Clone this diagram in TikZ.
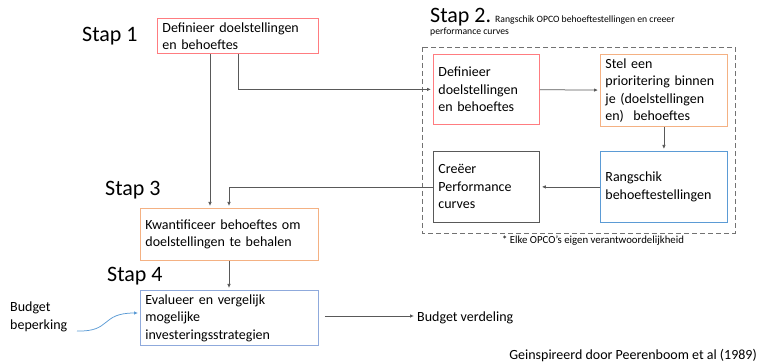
\documentclass[tikz,border=0pt]{standalone}
\usepackage{fontspec}
\setmainfont{Carlito}
\usetikzlibrary{arrows.meta, positioning}
\definecolor{boxred}{HTML}{FF7C80}
\definecolor{boxorange}{HTML}{F4B183}
\definecolor{boxblue}{HTML}{5B9BD5}
\definecolor{boxlblue}{HTML}{8FAADC}
\definecolor{boxgray}{HTML}{595959}
\definecolor{linegray}{HTML}{595959}
\tikzset{
    box/.style={draw, line width=0.8pt, inner xsep=5pt, inner ysep=4pt, anchor=north west, align=left,
        font=\fontsize{14}{17.5}\selectfont},
    staplabel/.style={anchor=base west, inner sep=0pt, font=\fontsize{22}{26}\selectfont},
    smalltext/.style={anchor=base west, inner sep=0pt, font=\fontsize{9.7}{12}\selectfont},
    plain/.style={inner sep=0pt, align=left, font=\fontsize{14}{18}\selectfont},
    flow/.style={draw=linegray, line width=0.75pt, -{Latex[length=4pt,width=3.5pt]}, shorten >=2pt}
}
\begin{document}
\begin{tikzpicture}[x=1pt, y=-1pt]
    \useasboundingbox (0,0) rectangle (768,363);
    % stap 2 kader
    \draw[linegray!85, line width=0.8pt, dash pattern=on 5pt off 3pt] (422,47) rectangle (735,233);
    % stappen
    \node[staplabel] (t1) at (82,42) {Stap 1};
    \node[staplabel] (t2) at (430,23) {Stap 2.};
    \node[smalltext] (t2a) at (495,23) {Rangschik OPCO behoeftestellingen en creeer};
    \node[smalltext] (t2b) at (430,35) {performance curves};
    \node[staplabel] (t3) at (105,196) {Stap 3};
    \node[staplabel] (t4) at (107,281) {Stap 4};
    % blokken
    \node[box, draw=boxred, text width=151pt, minimum height=34pt] (s1) at (157,18)
        {Definieer doelstellingen\\en behoeftes};
    \node[box, draw=boxred, text width=96pt, minimum height=70pt] (s2a) at (433,54)
        {Definieer\\doelstellingen\\en behoeftes};
    \node[box, draw=boxorange, text width=117pt, minimum height=70pt] (s2b) at (600,54)
        {Stel een\\prioritering binnen\\je (doelstellingen\\en)\ \ behoeftes};
    \node[box, draw=boxblue, text width=117pt, minimum height=71pt] (s2c) at (600,151)
        {Rangschik\\behoeftestellingen};
    \node[box, draw=boxgray, text width=96pt, minimum height=71pt] (s2d) at (433,151)
        {Creëer\\Performance\\curves};
    \node[box, draw=boxorange, text width=168pt, minimum height=52pt] (s3) at (140,208)
        {Kwantificeer behoeftes om\\doelstellingen te behalen};
    \node[box, draw=boxlblue, text width=168pt, minimum height=52pt] (s4) at (140,290)
        {Evalueer en vergelijk\\mogelijke\\investeringsstrategien};
    \node[plain, anchor=north west] (bb) at (10,302) {Budget\\beperking};
    \node[plain, anchor=base west] (bv) at (417,321) {Budget verdeling};
    \node[smalltext, anchor=base, font=\fontsize{10.8}{13}\selectfont] (note) at (593,244)
        {* Elke OPCO’s eigen verantwoordelijkheid};
    \node[plain, anchor=base east] (ref) at (757,359) {Geinspireerd door Peerenboom et al (1989)};
    % verbindingen
    \coordinate (c1) at (210,0);
    \coordinate (c2) at (238,0);
    \coordinate (c3) at (229,0);
    \coordinate (bbend) at (77,331);
    \draw[flow] (s1.south -| c1) -- (s3.north -| c1);
    \draw[flow] (s1.south -| c2) |- (s2a.west);
    \draw[flow] (s2a) -- (s2b);
    \draw[flow] (s2b) -- (s2c);
    \draw[flow] (s2c) -- (s2d);
    \draw[flow] (s2d.west) -| (s3.north -| c3);
    \draw[flow] (s3.south -| c3) -- (s4.north -| c3);
    \draw[flow, shorten <=6pt, shorten >=3pt] (s4.east |- 0,316) -- (bv.west |- 0,316);
    \draw[boxblue, line width=0.75pt, -{Latex[length=4pt,width=3.5pt]}, shorten >=2pt]
        (bbend) .. controls (112,332) and (100,313) .. (s4.west |- 0,313);
\end{tikzpicture}
\end{document}
